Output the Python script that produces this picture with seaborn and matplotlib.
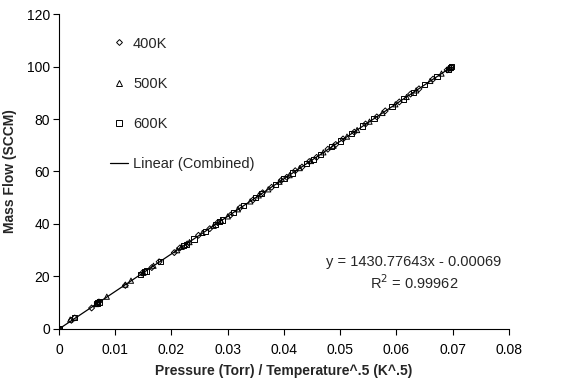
import matplotlib
matplotlib.use("Agg")
import matplotlib.pyplot as plt
import seaborn as sns
import numpy as np
import pandas as pd
from matplotlib.lines import Line2D

# Flow calibration data: pressure / sqrt(temperature) vs. mass flow
x_400 = [0, 0.0022, 0.0028, 0.0058, 0.0068, 0.0071, 0.0118, 0.0148, 0.0165, 0.0178,
         0.0205, 0.0215, 0.0228, 0.0248, 0.0268, 0.0282, 0.0305, 0.0322, 0.0345, 0.0362,
         0.0378, 0.0395, 0.0405, 0.0420, 0.0432, 0.0445, 0.0458, 0.0478, 0.0492, 0.0505,
         0.0525, 0.0545, 0.0565, 0.0580, 0.0605, 0.0625, 0.0640, 0.0665, 0.0690, 0.0695]
y_400 = [0, 3.3, 4.2, 8.0, 9.9, 10.3, 16.6, 21.3, 23.4, 25.6,
         29.1, 30.9, 32.4, 35.7, 38.2, 40.5, 43.4, 46.2, 49.2, 51.9,
         54.0, 56.6, 57.8, 60.3, 61.7, 63.8, 65.4, 68.5, 70.3, 72.4,
         75.0, 78.1, 80.8, 83.1, 86.5, 89.5, 91.5, 95.2, 98.7, 99.5]

x_500 = [0, 0.0020, 0.0066, 0.0070, 0.0085, 0.0118, 0.0128, 0.0150, 0.0168, 0.0210,
         0.0218, 0.0232, 0.0255, 0.0275, 0.0288, 0.0300, 0.0318, 0.0340, 0.0355, 0.0372,
         0.0392, 0.0410, 0.0428, 0.0448, 0.0470, 0.0488, 0.0512, 0.0530, 0.0552, 0.0575,
         0.0598, 0.0618, 0.0635, 0.0660, 0.0680, 0.0694]
y_500 = [0, 3.6, 9.5, 10.1, 12.3, 16.9, 18.4, 21.4, 24.1, 30.0,
         31.3, 33.1, 36.6, 39.3, 41.3, 42.9, 45.6, 48.6, 50.9, 53.2,
         56.1, 58.6, 61.3, 64.0, 67.3, 69.8, 73.3, 75.8, 79.0, 82.3,
         85.6, 88.4, 90.9, 94.5, 97.3, 99.3]

x_600 = [0, 0.0028, 0.0067, 0.0069, 0.0072, 0.0145, 0.0152, 0.0155, 0.0180, 0.0222,
         0.0226, 0.0240, 0.0260, 0.0278, 0.0285, 0.0290, 0.0310, 0.0328, 0.0350, 0.0360,
         0.0385, 0.0400, 0.0415, 0.0440, 0.0452, 0.0465, 0.0485, 0.0500, 0.0520, 0.0540,
         0.0560, 0.0592, 0.0612, 0.0630, 0.0650, 0.0672, 0.0692, 0.0696, 0.0698]
y_600 = [0, 4.5, 9.6, 9.9, 10.3, 20.8, 21.8, 22.1, 25.8, 31.8,
         32.3, 34.3, 37.2, 39.8, 40.8, 41.5, 44.4, 46.9, 50.1, 51.5,
         55.1, 57.3, 59.4, 63.0, 64.7, 66.5, 69.4, 71.6, 74.4, 77.3,
         80.1, 84.7, 87.6, 90.1, 93.0, 96.2, 99.0, 99.6, 99.9]

# Linear fit of the combined data
slope = 1430.77643
intercept = -0.00069
r_squared = 0.99962

series_labels = ["400K", "500K", "600K"]
x_ticks = [0, 0.01, 0.02, 0.03, 0.04, 0.05, 0.06, 0.07, 0.08]
x_tick_labels = ["0", "0.01", "0.02", "0.03", "0.04", "0.05", "0.06", "0.07", "0.08"]
y_ticks = [0, 20, 40, 60, 80, 100, 120]

sns.set_theme(style="ticks")
plt.rcParams["font.family"] = ["Liberation Sans", "DejaVu Sans"]

fig = plt.figure(figsize=(5.71, 3.85), dpi=100)
ax = fig.add_axes([0.1033, 0.1455, 0.7881, 0.8181])

markers = ["D", "^", "s"]
sizes = [9, 14, 14]
data_sets = [(x_400, y_400), (x_500, y_500), (x_600, y_600)]
for (xs, ys), lab, mk, sz in zip(data_sets, series_labels, markers, sizes):
    df = pd.DataFrame({"x": xs, "y": ys})
    sns.scatterplot(data=df, x="x", y="y", marker=mk, s=sz, facecolor="none",
                    edgecolor="black", linewidth=0.7, ax=ax, legend=False, zorder=3)

# Trendline across the range of the combined data
all_x = np.array(x_400 + x_500 + x_600)
fit_x = np.array([all_x.min(), all_x.max()])
fit_df = pd.DataFrame({"x": fit_x, "y": slope * fit_x + intercept})
sns.lineplot(data=fit_df, x="x", y="y", color="black", linewidth=0.9, ax=ax, zorder=2)

ax.set_xlim(0, 0.08)
ax.set_ylim(0, 120)
ax.set_xticks(x_ticks)
ax.set_xticklabels(x_tick_labels)
ax.set_yticks(y_ticks)
ax.tick_params(axis="both", direction="out", length=4, width=0.8, labelsize=10,
               colors="black")
ax.tick_params(axis="x", pad=6)
ax.tick_params(axis="y", pad=2.5)
for side in ["top", "right"]:
    ax.spines[side].set_visible(False)
for side in ["left", "bottom"]:
    ax.spines[side].set_color("black")
    ax.spines[side].set_linewidth(0.8)

ax.set_xlabel("Pressure (Torr) / Temperature^.5 (K^.5)", fontsize=10,
              fontweight="bold", labelpad=5)
ax.set_ylabel("Mass Flow (SCCM)", fontsize=10, fontweight="bold", labelpad=7)

ax.text(0.0631, 25.5, f"y = {slope:.5f}x - {abs(intercept):.5f}", fontsize=10.5,
        ha="center", va="center")
ax.text(0.0631, 17.5, f"R$^2$ = {r_squared:.5f}", fontsize=10.5,
        ha="center", va="center")

handles = [
    Line2D([], [], marker="D", linestyle="none", markersize=3, markerfacecolor="none",
           markeredgecolor="black", markeredgewidth=0.7),
    Line2D([], [], marker="^", linestyle="none", markersize=3.8, markerfacecolor="none",
           markeredgecolor="black", markeredgewidth=0.7),
    Line2D([], [], marker="s", linestyle="none", markersize=3.8, markerfacecolor="none",
           markeredgecolor="black", markeredgewidth=0.7),
    Line2D([], [], color="black", linewidth=0.9),
]
ax.legend(handles, series_labels + ["Linear (Combined)"], loc="upper left",
          bbox_to_anchor=(0.085, 0.97), frameon=False, fontsize=10.5,
          labelspacing=1.8, handlelength=1.2, handletextpad=0.35)

fig.savefig("out.png", dpi=100)
